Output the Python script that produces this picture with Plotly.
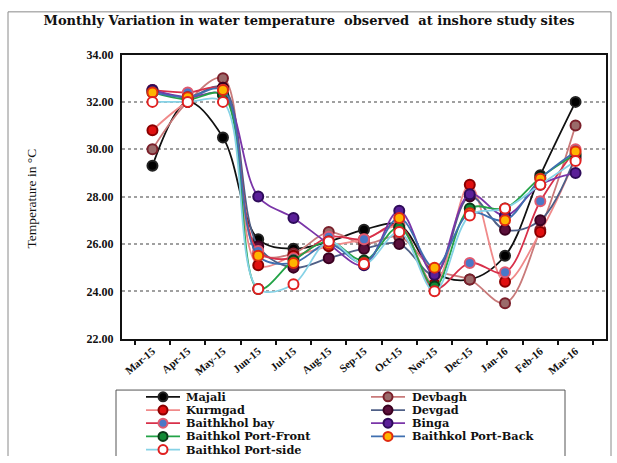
import plotly.graph_objects as go

# ---- data -----------------------------------------------------------------
months = ["Mar-15", "Apr-15", "May-15", "Jun-15", "Jul-15", "Aug-15", "Sep-15",
          "Oct-15", "Nov-15", "Dec-15", "Jan-16", "Feb-16", "Mar-16"]

majali = [29.3, 32.0, 30.5, 26.2, 25.8, 26.1, 26.6, 26.8, 24.8, 24.5, 25.5, 28.9, 32.0]
devbagh = [30.0, 32.0, 33.0, 25.6, 25.6, 26.5, 26.0, 26.3, 24.9, 24.5, 23.5, 26.6, 31.0]
kurmgad = [30.8, 32.0, 32.6, 25.1, 25.5, 25.9, 26.2, 26.7, 24.3, 28.5, 24.4, 26.5, 29.6]
devgad = [32.5, 32.2, 32.6, 25.9, 25.0, 25.4, 25.8, 26.0, 24.7, 28.0, 26.6, 27.0, 29.7]
baithkhol_bay = [32.5, 32.4, 32.5, 25.7, 25.4, 26.3, 26.2, 26.8, 24.1, 25.2, 24.8, 27.8, 30.0]
binga = [32.5, 32.2, 32.3, 28.0, 27.1, 26.0, 25.1, 27.4, 24.7, 28.1, 27.2, 28.5, 29.0]
port_front = [32.4, 32.1, 32.3, 24.1, 25.3, 26.1, 25.3, 26.7, 24.2, 27.5, 27.5, 28.8, 29.8]
port_back = [32.4, 32.2, 32.5, 25.5, 25.2, 26.0, 25.2, 27.1, 25.0, 27.3, 27.0, 28.75, 29.9]
port_side = [32.0, 32.0, 32.0, 24.1, 24.3, 26.1, 25.15, 26.5, 24.0, 27.2, 27.5, 28.5, 29.5]

site_names = ["Majali", "Devbagh", "Kurmgad", "Devgad", "Baithkhol bay", "Binga",
              "Baithkol Port-Front", "Baithkol Port-Back", "Baithkol Port-side"]
site_values = [majali, devbagh, kurmgad, devgad, baithkhol_bay, binga,
               port_front, port_back, port_side]

y_ticks = [22, 24, 26, 28, 30, 32, 34]

# ---- styles: (line colour, marker fill, marker outline) ------------------
styles = [
    ("#111111", "#000000", "#222222"),
    ("#c97a7a", "#9a6a6a", "#7a1f2a"),
    ("#f08a8a", "#e01010", "#8a0000"),
    ("#4f5f86", "#5a0f3a", "#3a0020"),
    ("#d8304a", "#4a78c8", "#e05a70"),
    ("#7a35a8", "#5a1f98", "#2e0b5a"),
    ("#23a347", "#128a35", "#0b3a18"),
    ("#3f6fb0", "#ffb400", "#e02a10"),
    ("#86d2e6", "#ffffff", "#e02020"),
]

W, H = 617, 463
PLOT_L, PLOT_R, PLOT_T, PLOT_B = 122, 606, 49, 342
SERIF = "Liberation Serif"
WIDE_SERIF = "DejaVu Serif"

fig = go.Figure()

for name, vals, (lc, mf, mo) in zip(site_names, site_values, styles):
    fig.add_trace(go.Scatter(
        x=months, y=vals, name=name, mode="lines+markers",
        line=dict(color=lc, width=1.8, shape="spline", smoothing=1.0),
        marker=dict(size=10, color=mf, line=dict(color=mo, width=2)),
        showlegend=False, cliponaxis=False,
    ))

# ---- hand-built legend on a pixel-scaled overlay axis ---------------------
LEG_BOX = (116, 395, 565, 475)
ROW0, ROW_STEP = 402, 13.6
COLS = [(146, 180, 184), (371, 405, 410)]  # line start, line end, text x

for i, (name, (lc, mf, mo)) in enumerate(zip(site_names, styles)):
    row, col = divmod(i, 2)
    x0, x1, tx = COLS[col]
    yy = ROW0 + row * ROW_STEP
    fig.add_trace(go.Scatter(
        x=[x0, (x0 + x1) / 2, x1], y=[yy, yy, yy], mode="lines+markers",
        xaxis="x2", yaxis="y2", showlegend=False, hoverinfo="skip",
        line=dict(color=lc, width=1.8),
        marker=dict(size=9, color=mf, line=dict(color=mo, width=2),
                    opacity=[0, 1, 0]),
        cliponaxis=False,
    ))
    fig.add_annotation(
        x=tx, y=yy, xref="x2", yref="y2", text=name, showarrow=False,
        xanchor="left", yanchor="middle",
        font=dict(family=WIDE_SERIF, size=11.3, color="#111", weight="bold"),
    )

fig.add_shape(type="rect", xref="x2", yref="y2",
              x0=LEG_BOX[0], y0=LEG_BOX[1], x1=LEG_BOX[2], y1=LEG_BOX[3],
              line=dict(color="#555555", width=1), fillcolor="rgba(0,0,0,0)",
              layer="below")

# outer frame
fig.add_shape(type="rect", xref="x2", yref="y2", x0=8, y0=5, x1=611, y1=475,
              line=dict(color="#8a8a8a", width=1), layer="below")

fig.update_layout(
    width=W, height=H,
    margin=dict(l=0, r=0, t=0, b=0),
    paper_bgcolor="white", plot_bgcolor="rgba(0,0,0,0)",
    title=dict(
        text="Monthly Variation in water temperature&nbsp; observed&nbsp; at inshore study sites",
        x=(38 + 580) / 2 / W, xanchor="center", y=1 - 20 / H, yanchor="middle",
        font=dict(family=WIDE_SERIF, size=13, color="#111", weight="bold"),
    ),
    xaxis=dict(
        domain=[PLOT_L / W, PLOT_R / W],
        type="category", categoryorder="array", categoryarray=months,
        showline=True, linecolor="#111", linewidth=2, mirror=True,
        ticks="outside", ticklen=4, tickcolor="#111", tickwidth=1.5,
        tickson="boundaries", showgrid=False, tickangle=-40,
        tickfont=dict(family=SERIF, size=11, color="#111", weight="bold"),
    ),
    yaxis=dict(
        domain=[1 - PLOT_B / H, 1 - PLOT_T / H],
        range=[22, 34], tickvals=y_ticks, tickformat=".2f",
        showline=True, linecolor="#111", linewidth=2, mirror=True,
        ticks="", showgrid=True, gridcolor="#a0a0a0", griddash="dot",
        gridwidth=1.5, zeroline=False, ticklabelstandoff=4,
        tickfont=dict(family=SERIF, size=12, color="#111", weight="bold"),
    ),
    xaxis2=dict(domain=[0, 1], range=[0, W], visible=False, fixedrange=True),
    yaxis2=dict(domain=[0, 1], range=[H, 0], visible=False, fixedrange=True),
    showlegend=False,
)

fig.add_annotation(
    x=22 / W, y=1 - 198 / H, xref="paper", yref="paper",
    text="Temperature in °C", textangle=-90, showarrow=False,
    font=dict(family=SERIF, size=13.5, color="#111"),
)

fig.write_html("out.html")
